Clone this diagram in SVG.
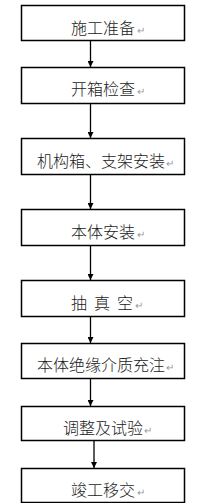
<svg xmlns="http://www.w3.org/2000/svg" width="215" height="503" viewBox="0 0 215 503">
<style>
.box{fill:#fff;stroke:#000;stroke-width:1.5}
.lbl{font-family:"Noto Sans CJK SC","Noto Sans CJK JP",sans-serif;font-size:16px;font-weight:300;fill:#1a1a1a}
.ret{font-family:"DejaVu Sans",sans-serif;font-size:10px;fill:#999}
.con{stroke:#000;stroke-width:1.3;fill:none}
</style>
<defs>
<marker id="ah" markerWidth="6" markerHeight="6" refX="6" refY="3" orient="auto" markerUnits="userSpaceOnUse">
<path d="M0,0 L6,3 L0,6 Z" fill="#000"/>
</marker>
</defs>
<rect width="215" height="503" fill="#fff"/>
<g id="connectors">
<line class="con" x1="90.5" y1="40" x2="90.5" y2="67" marker-end="url(#ah)"/>
<line class="con" x1="90.5" y1="103" x2="90.5" y2="138" marker-end="url(#ah)"/>
<line class="con" x1="90.5" y1="174" x2="90.5" y2="209" marker-end="url(#ah)"/>
<line class="con" x1="90.5" y1="245" x2="90.5" y2="280" marker-end="url(#ah)"/>
<line class="con" x1="90.5" y1="316" x2="90.5" y2="343" marker-end="url(#ah)"/>
<line class="con" x1="90.5" y1="378" x2="90.5" y2="406" marker-end="url(#ah)"/>
<line class="con" x1="94" y1="440" x2="94" y2="468" marker-end="url(#ah)"/>
</g>
<g id="n1"><rect class="box" x="21.5" y="5.5" width="163" height="35"/><text class="lbl" x="71" y="34">施工准备<tspan class="ret" dx="2">↵</tspan></text></g>
<g id="n2"><rect class="box" x="21.5" y="67.5" width="163" height="36"/><text class="lbl" x="71" y="95">开箱检查<tspan class="ret" dx="2">↵</tspan></text></g>
<g id="n3"><rect class="box" x="21.5" y="138.5" width="163" height="36"/><text class="lbl" x="37" y="166.5">机构箱、支架安装<tspan class="ret" dx="1">↵</tspan></text></g>
<g id="n4"><rect class="box" x="21.5" y="209.5" width="163" height="36"/><text class="lbl" x="71" y="238">本体安装<tspan class="ret" dx="2">↵</tspan></text></g>
<g id="n5"><rect class="box" x="21.5" y="280.5" width="163" height="36"/><text class="lbl" x="71" y="308.5">抽<tspan x="94">真</tspan><tspan x="117">空</tspan><tspan class="ret" dx="2">↵</tspan></text></g>
<g id="n6"><rect class="box" x="21.5" y="343.5" width="163" height="35"/><text class="lbl" x="37" y="370.5">本体绝缘介质充注<tspan class="ret" dx="1">↵</tspan></text></g>
<g id="n7"><rect class="box" x="21.5" y="406.5" width="163" height="34"/><text class="lbl" x="63" y="434">调整及试验<tspan class="ret" dx="1">↵</tspan></text></g>
<g id="n8"><rect class="box" x="21.5" y="468.5" width="163" height="34"/><text class="lbl" x="71" y="496">竣工移交<tspan class="ret" dx="2">↵</tspan></text></g>
</svg>
